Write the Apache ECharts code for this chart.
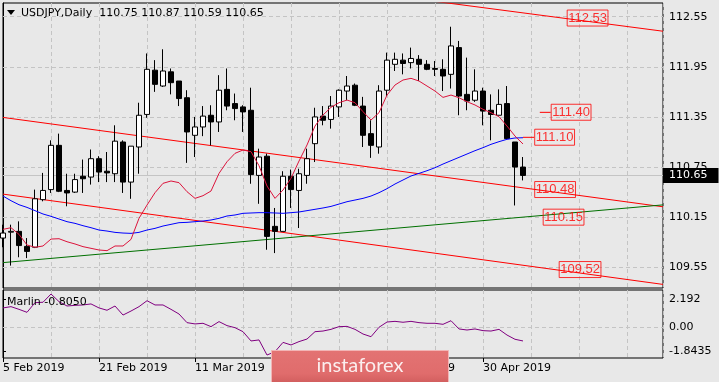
<!DOCTYPE html>
<html><head><meta charset="utf-8">
<script src="https://cdn.jsdelivr.net/npm/echarts/dist/echarts.min.js"></script>
<style>html,body{margin:0;padding:0;background:#e8e8e8;}#c{width:719px;height:382px;}</style>
</head><body><div id="c"></div>
<script>
// ---------- data ----------
const symbolName = 'USDJPY,Daily';
const dateLabels   = ['5 Feb 2019', '21 Feb 2019', '11 Mar 2019', '27 Mar 2019', '12 Apr 2019', '30 Apr 2019'];
const dateLabelIdx = [0, 12, 24, 36, 48, 60];

const opens  = [109.90,109.97,109.98,109.80,109.79,110.36,110.48,111.01,110.47,110.45,110.64,110.63,110.85,110.70,110.67,111.05,110.57,110.99,111.38,111.91,111.72,111.89,111.78,111.58,111.13,111.23,111.37,111.29,111.68,111.51,111.47,111.43,110.65,110.88,110.04,109.98,110.64,110.47,110.65,111.03,111.36,111.32,111.47,111.66,111.73,111.48,111.15,110.99,111.67,111.98,112.03,112.00,112.04,111.98,111.93,111.92,111.86,112.18,111.62,111.55,111.66,111.43,111.37,111.51,111.05,110.75];
const highs  = [110.06,110.06,110.10,109.90,110.48,110.68,111.07,111.15,110.67,110.67,110.84,110.96,110.88,110.93,111.25,111.07,111.00,111.52,112.11,112.03,112.16,111.93,111.78,111.67,111.35,111.48,111.49,111.85,111.93,111.63,111.49,111.70,110.97,110.91,110.26,110.70,110.72,110.73,110.97,111.46,111.48,111.60,111.68,111.84,111.75,111.59,111.31,111.73,112.12,112.12,112.11,112.18,112.09,112.03,112.02,112.04,112.43,112.26,112.06,111.92,111.70,111.62,111.68,111.72,111.05,110.87];
const lows   = [109.79,109.57,109.67,109.66,109.78,110.34,110.44,110.45,110.28,110.44,110.44,110.54,110.57,110.57,110.57,110.44,110.37,110.67,111.34,111.65,111.71,111.62,111.48,110.80,110.87,111.12,111.01,111.17,111.43,111.31,111.17,110.55,110.31,109.76,109.72,109.98,110.26,110.02,110.55,110.81,111.25,111.21,111.35,111.55,111.48,110.99,110.86,110.91,111.60,111.90,111.86,111.93,111.78,111.91,111.84,111.66,111.69,111.37,111.43,111.53,111.25,111.07,111.37,111.08,110.29,110.59];
const closes = [109.96,109.98,109.81,109.74,110.37,110.47,111.01,110.46,110.44,110.60,110.61,110.85,110.69,110.68,111.06,110.57,111.00,111.37,111.92,111.74,111.90,111.76,111.57,111.17,111.23,111.36,111.29,111.67,111.48,111.45,111.41,110.66,110.87,109.92,109.98,110.64,110.48,110.67,110.85,111.35,111.31,111.48,111.67,111.72,111.49,111.13,111.01,111.66,112.03,112.04,111.99,112.05,111.98,111.92,111.92,111.84,112.20,111.60,111.54,111.66,111.42,111.38,111.50,111.09,110.75,110.65];

const fastMA = [110.004,110.024,109.944,109.817,109.789,109.805,109.888,109.892,109.856,109.829,109.797,109.777,109.757,109.749,109.805,109.805,109.884,110.136,110.295,110.443,110.555,110.583,110.563,110.455,110.375,110.407,110.463,110.674,110.814,110.914,110.954,110.934,110.766,110.523,110.375,110.475,110.615,110.822,111.014,111.241,111.373,111.465,111.520,111.552,111.520,111.413,111.313,111.401,111.612,111.732,111.792,111.812,111.780,111.720,111.660,111.584,111.612,111.580,111.532,111.493,111.441,111.401,111.353,111.241,111.121,111.026];
const slowMA = [110.403,110.347,110.299,110.267,110.228,110.188,110.160,110.128,110.096,110.076,110.048,110.024,109.996,109.984,109.968,109.960,109.956,109.968,109.996,110.016,110.044,110.064,110.084,110.088,110.096,110.104,110.116,110.136,110.164,110.176,110.196,110.200,110.204,110.204,110.200,110.196,110.204,110.212,110.228,110.244,110.260,110.279,110.307,110.335,110.355,110.375,110.403,110.443,110.491,110.547,110.595,110.643,110.674,110.706,110.742,110.786,110.826,110.866,110.906,110.946,110.982,111.022,111.054,111.082,111.098,111.101];

const marlin = [1.50,1.60,1.39,1.16,1.91,1.94,2.58,1.99,1.65,1.70,1.73,1.81,1.50,1.32,1.65,0.95,1.26,1.60,2.06,1.73,1.73,1.39,1.03,0.36,0.26,0.31,0.05,0.44,0.13,-0.03,-0.34,-1.06,-0.98,-2.15,-1.89,-1.17,-1.37,-1.11,-0.91,-0.34,-0.29,-0.16,0.05,0.07,-0.16,-0.52,-0.73,0.00,0.41,0.46,0.39,0.46,0.36,0.31,0.31,0.23,0.51,-0.13,-0.21,-0.13,-0.26,-0.29,-0.16,-0.60,-0.93,-1.06];
const marlinLabel = 'Marlin -0.8050';

const priceTicks = [109.55, 110.15, 110.75, 111.35, 111.95, 112.55];
const marlinTicks = [-1.8435, 0, 2.192];
const marlinTickLabels = ['-1.8435', '0.00', '2.192'];
const lastPrice = 110.65;

// trend / channel lines: [barIndex, price] end points
const lineTop    = [[50, 112.784], [82.5, 112.376]];
const lineUpper  = [[0, 111.344], [82.5, 110.274]];
const lineLower  = [[0, 110.426], [82.5, 109.345]];
const lineGreen  = [[0, 109.606], [82.5, 110.297]];
const seg1140    = [[67.1, 111.405], [68.46, 111.405]];
const seg1110    = [[65, 111.106], [66.4, 111.106]];
// price annotations: [barIndex, price, text]
const annotations = [[70.46,112.534,'112.53'],[68.46,111.406,'111.40'],[66.4,111.107,'111.10'],[66.4,110.481,'110.48'],[67.46,110.150,'110.15'],[69.46,109.523,'109.52']];

// ---------- chart ----------
const FONT = 'DejaVu Sans';
const GRIDC = '#c4c4c4';
const dash = [4, 3];
const xMax = 82.5;
const candles = opens.map((o, i) => [i, o, closes[i], lows[i], highs[i]]);
const idx = arr => arr.map((v, i) => [i, v]);
const last = candles.length - 1;
const header = symbolName + '  ' + [opens[last], highs[last], lows[last], closes[last]].map(v => v.toFixed(2)).join(' ');

function seg(data, color, name) {
  return { type: 'line', name, xAxisIndex: 0, yAxisIndex: 0, data, symbol: 'none', silent: true,
    lineStyle: { color, width: 1 }, z: 4, animation: false };
}

const chart = echarts.init(document.getElementById('c'), null, { renderer: 'canvas' });
chart.setOption({
  backgroundColor: '#e8e8e8',
  animation: false,
  grid: [
    { left: 3, top: 3, width: 660, height: 285, show: true, borderColor: '#000', borderWidth: 1, backgroundColor: 'transparent', outerBoundsMode: 'none', containLabel: false },
    { left: 3, top: 290, width: 660, height: 68, show: true, borderColor: '#000', borderWidth: 1, backgroundColor: 'transparent', outerBoundsMode: 'none', containLabel: false }
  ],
  xAxis: [
    { gridIndex: 0, type: 'value', min: 0, max: xMax, interval: 6,
      axisLine: { show: false }, axisTick: { show: false }, axisLabel: { show: false },
      splitLine: { show: true, lineStyle: { color: GRIDC, type: dash, width: 1 } } },
    { gridIndex: 1, type: 'value', min: 0, max: xMax, interval: 6, position: 'bottom',
      axisLine: { show: false }, axisTick: { show: false }, axisLabel: { show: false },
      splitLine: { show: true, lineStyle: { color: GRIDC, type: dash, width: 1 } } },
    { gridIndex: 1, type: 'value', min: 0, max: xMax, position: 'bottom',
      axisLine: { show: false },
      axisTick: { show: true, customValues: dateLabelIdx, length: 4, lineStyle: { color: '#000' } },
      axisLabel: { show: true, customValues: dateLabelIdx, margin: 5, align: 'left', color: '#000', fontFamily: FONT, fontSize: 11,
        formatter: v => { const k = dateLabelIdx.indexOf(Math.round(v)); return k >= 0 ? dateLabels[k] : ''; } },
      splitLine: { show: false } }
  ],
  yAxis: [
    { gridIndex: 0, type: 'value', position: 'right', min: 109.302, max: 112.714, scale: true,
      axisLine: { show: true, lineStyle: { color: '#000' } },
      axisTick: { show: true, customValues: priceTicks, length: 3, lineStyle: { color: '#000' } },
      axisLabel: { show: true, customValues: priceTicks, margin: 6, color: '#000', fontFamily: FONT, fontSize: 11, formatter: v => v.toFixed(2) },
      splitLine: { show: false } },
    { gridIndex: 1, type: 'value', position: 'right', min: -2.38, max: 2.89,
      axisLine: { show: true, lineStyle: { color: '#000' } },
      axisTick: { show: true, customValues: marlinTicks, length: 3, lineStyle: { color: '#000' } },
      axisLabel: { show: true, customValues: marlinTicks, margin: 6, color: '#000', fontFamily: FONT, fontSize: 11,
        formatter: v => { let k = 0; marlinTicks.forEach((t, j) => { if (Math.abs(t - v) < Math.abs(marlinTicks[k] - v)) k = j; }); return marlinTickLabels[k]; } },
      splitLine: { show: false } }
  ],
  series: [
    { type: 'candlestick', xAxisIndex: 0, yAxisIndex: 0, data: candles,
      encode: { x: 0, y: [1, 2, 3, 4] }, barWidth: 5, z: 5,
      itemStyle: { color: '#ffffff', color0: '#000000', borderColor: '#000000', borderColor0: '#000000', borderWidth: 1 },
      markLine: { symbol: 'none', silent: true, animation: false, z: 1,
        lineStyle: { color: '#c4c4c4', type: 'solid', width: 1 },
        label: { show: true, position: 'end', distance: 0, formatter: () => lastPrice.toFixed(2),
          backgroundColor: '#000', color: '#fff', fontFamily: FONT, fontSize: 11, padding: [2, 11, 2, 6] },
        data: priceTicks.map(v => ({ yAxis: v, lineStyle: { color: GRIDC, type: dash, width: 1 }, label: { show: false } }))
          .concat([{ yAxis: lastPrice }]) } },
    seg(lineTop, '#ff0000', 'top'),
    seg(lineUpper, '#ff0000', 'upper'),
    seg(lineLower, '#ff0000', 'lower'),
    seg(lineGreen, '#007000', 'green'),
    seg(seg1140, '#ff0000', 's1'),
    seg(seg1110, '#ff0000', 's2'),
    { type: 'line', xAxisIndex: 0, yAxisIndex: 0, data: idx(slowMA), symbol: 'none', silent: true, z: 6,
      lineStyle: { color: '#0000ff', width: 1 } },
    { type: 'line', xAxisIndex: 0, yAxisIndex: 0, data: idx(fastMA), symbol: 'none', silent: true, z: 6,
      lineStyle: { color: '#dc143c', width: 1 } },
    { type: 'scatter', xAxisIndex: 0, yAxisIndex: 0, data: annotations, symbolSize: 1, z: 7, silent: true,
      itemStyle: { color: 'rgba(0,0,0,0)' },
      label: { show: true, position: 'right', distance: 0, formatter: p => p.data[2],
        color: '#ff0000', fontFamily: 'Liberation Sans', fontSize: 13, borderColor: '#ff0000', borderWidth: 1, padding: [2, 1, 1, 1] } },
    { type: 'line', xAxisIndex: 1, yAxisIndex: 1, data: idx(marlin), symbol: 'none', silent: true, z: 5,
      lineStyle: { color: '#800080', width: 1 },
      markLine: { symbol: 'none', silent: true, label: { show: false },
        lineStyle: { color: GRIDC, type: dash, width: 1 }, data: [{ yAxis: 0 }] } }
  ],
  graphic: [
    { type: 'polygon', shape: { points: [[7, 10], [15, 10], [11, 15]] }, style: { fill: '#000' }, z: 10 },
    { type: 'text', x: 21, y: 13.5, z: 10, style: { text: header, fill: '#000', font: '11px "DejaVu Sans"', textVerticalAlign: 'middle', verticalAlign: 'middle' } },
    { type: 'text', x: 7, y: 302, z: 10, style: { text: marlinLabel, fill: '#000', font: '11px "DejaVu Sans"', textVerticalAlign: 'middle', verticalAlign: 'middle' } },
    { type: 'rect', shape: { x: 271.5, y: 350.5, width: 177, height: 33 }, z: 20,
      style: { fill: { type: 'linear', x: 0, y: 0, x2: 0, y2: 1, colorStops: [{ offset: 0, color: '#e37373' }, { offset: 0.7, color: '#e06c6c' }, { offset: 1, color: '#cf5c5c' }] }, stroke: '#f2b5b5', lineWidth: 1 } },
    { type: 'text', x: 360, y: 366, z: 21, style: { text: 'instaforex', fill: '#fbeeee', font: '20px Lato', align: 'center', verticalAlign: 'middle', textAlign: 'center', textVerticalAlign: 'middle' } }
  ]
});
</script>
</body></html>
